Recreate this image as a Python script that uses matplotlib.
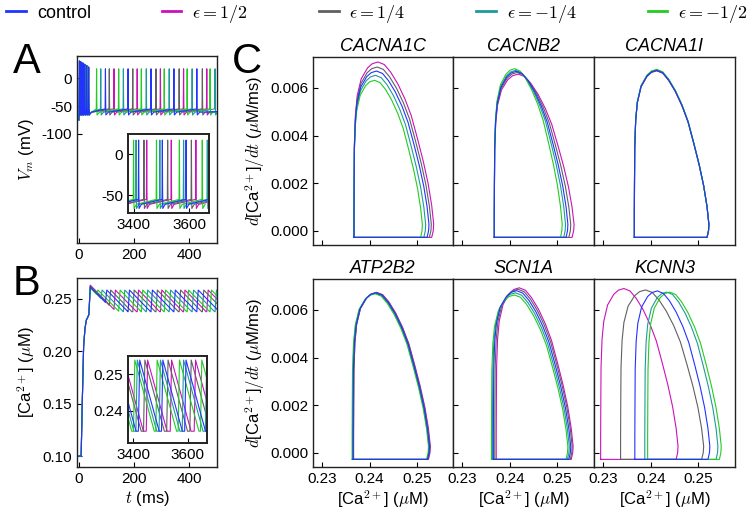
import matplotlib
matplotlib.use('Agg')
import matplotlib.pyplot as plt
from matplotlib.lines import Line2D
from matplotlib.ticker import FormatStrFormatter

plt.rcParams.update({
    'font.family': ['Liberation Sans', 'DejaVu Sans'],
    'mathtext.fontset': 'cm',
    'axes.unicode_minus': False,
    'xtick.direction': 'in',
    'ytick.direction': 'in',
    'xtick.labelsize': 11,
    'ytick.labelsize': 11,
    'axes.labelsize': 12,
    'axes.linewidth': 1.0,
    'axes.edgecolor': '#222222',
    'xtick.major.size': 3.5,
    'ytick.major.size': 3.5,
})

# series: control, eps=1/2, eps=1/4, eps=-1/4, eps=-1/2
labels = ['control', r'$\epsilon=1/2$', r'$\epsilon=1/4$', r'$\epsilon=-1/4$', r'$\epsilon=-1/2$']
colors = ['#2233ff', '#cc11bb', '#606060', '#1f9a9a', '#22cc22']
draw_order = [1, 2, 3, 4, 0]

# ---- panel A / B : spike times (ms) ----
early_spikes = [2, 6, 10, 15, 21, 28, 35]
early_peaks = [31, 30, 28, 27, 25, 23, 20]
spikes_main = [
    [96, 178, 261, 344, 427],
    [127, 211, 295, 379, 463],
    [110, 195, 279, 363, 447],
    [79, 161, 244, 327, 410, 493],
    [64, 144, 226, 309, 392, 475],
]
spikes_inset = [
    [3333, 3418, 3503, 3588, 3673],
    [3360, 3447, 3535, 3623, 3711],
    [3352, 3437, 3522, 3607, 3692],
    [3325, 3409, 3494, 3579, 3664],
    [3317, 3400, 3482, 3564, 3646],
]
# spike waveform (offset ms, mV); peak value given separately
spike_dt = [-1.2, 0, 0.8, 1.6, 10]
spike_dv = [-55, None, -40, -66, -61]
v_peak = 17
v_rest = -60
v_start = -75

# calcium trace
ca_start_t = [0, 8, 12, 17, 22, 27, 31, 36]
ca_start_c = [0.10, 0.10, 0.15, 0.205, 0.222, 0.230, 0.232, 0.235]
ca_first_peak = [0.2615, 0.2632, 0.2625, 0.2610, 0.2605]
ca_lo_main, ca_hi_main = 0.2378, 0.2585
ca_lo_inset, ca_hi_inset = 0.2345, 0.2538
ca_rise = 5.0
ca_decay = 0.00027  # uM/ms

# ---- panel C : limit cycles ----
genes = ['CACNA1C', 'CACNB2', 'CACNA1I', 'ATP2B2', 'SCN1A', 'KCNN3']
loop_ca_min = [
    [0.2367, 0.2367, 0.2367, 0.2367, 0.2367],
    [0.2367, 0.2367, 0.2367, 0.2367, 0.2367],
    [0.2365, 0.2365, 0.2365, 0.2365, 0.2365],
    [0.2365, 0.2366, 0.2366, 0.2364, 0.2363],
    [0.2365, 0.2371, 0.2368, 0.2363, 0.2361],
    [0.2366, 0.2294, 0.2336, 0.2387, 0.2393],
]
loop_ca_max = [
    [0.2526, 0.2536, 0.2531, 0.2519, 0.2512],
    [0.2522, 0.2535, 0.2528, 0.2517, 0.2510],
    [0.2522, 0.2522, 0.2522, 0.2522, 0.2522],
    [0.2527, 0.2529, 0.2528, 0.2526, 0.2525],
    [0.2528, 0.2533, 0.2531, 0.2525, 0.2522],
    [0.2524, 0.2457, 0.2511, 0.2541, 0.2548],
]
loop_peak = [
    [0.00671, 0.00709, 0.00688, 0.00653, 0.00632],
    [0.00670, 0.00658, 0.00665, 0.00674, 0.00681],
    [0.00674, 0.00672, 0.00673, 0.00676, 0.00678],
    [0.00672, 0.00674, 0.00673, 0.00670, 0.00668],
    [0.00681, 0.00693, 0.00687, 0.00672, 0.00663],
    [0.00680, 0.00690, 0.00684, 0.00675, 0.00675],
]
loop_floor = -0.00028
# loop outline: fraction of width, fraction of peak
loop_u = [0.0, 0.0, 0.002, 0.005, 0.018, 0.04, 0.09, 0.17, 0.23, 0.30, 0.38, 0.46,
          0.55, 0.64, 0.72, 0.80, 0.87, 0.93, 0.975, 1.0, 0.995]
loop_v = [0.0, 0.10, 0.30, 0.52, 0.69, 0.80, 0.90, 0.965, 0.99, 1.0, 0.985, 0.94,
          0.87, 0.78, 0.68, 0.54, 0.41, 0.28, 0.15, 0.04, 0.0]


def v_trace(spikes, t_end):
    t, v = [0], [v_start]
    allsp = list(zip(early_spikes, early_peaks)) + [(s, v_peak) for s in spikes]
    for s, pk in allsp:
        for dt, dv in zip(spike_dt, spike_dv):
            t.append(s + dt)
            v.append(pk if dv is None else dv)
    t.append(t_end)
    v.append(v_rest)
    return t, v


def v_trace_inset(spikes):
    t, v = [spikes[0] - 20], [v_rest]
    for s in spikes:
        for dt, dv in zip(spike_dt, spike_dv):
            t.append(s + dt)
            v.append(v_peak if dv is None else dv)
    return t, v


def ca_trace(spikes, lo, hi, t0, c0, peak0, t_end):
    t, c = list(t0), list(c0)
    pt, ph = t[-1] + ca_rise, peak0
    t.append(pt)
    c.append(ph)
    for s in list(spikes) + [t_end]:
        val = ph - ca_decay * (s - pt)
        if val < lo:
            t.append(pt + (ph - lo) / ca_decay)
            c.append(lo)
            val = lo
        t.append(s)
        c.append(val)
        if s == t_end:
            break
        pt, ph = s + ca_rise, hi
        t.append(pt)
        c.append(ph)
    return t, c


W, H = 750, 511
fig = plt.figure(figsize=(7.5, 5.11), dpi=100)


def px_axes(l, r, top, bot):
    return fig.add_axes([l / W, 1 - bot / H, (r - l) / W, (bot - top) / H])


lw = 0.8

# ---------- A ----------
axA = px_axes(77, 217, 56, 243)
for i in draw_order:
    t, v = v_trace(spikes_main[i], 505)
    axA.plot(t, v, color=colors[i], lw=lw)
axA.set_xlim(-7, 500)
axA.set_ylim(-296, 40)
axA.set_xticks([0, 200, 400])
axA.set_yticks([0, -50, -100])
axA.set_ylabel('$V_m$ (mV)')

axAi = px_axes(128, 209, 134, 213)
for i in draw_order:
    t, v = v_trace_inset(spikes_inset[i])
    axAi.plot(t, v, color=colors[i], lw=lw)
axAi.set_xlim(3380, 3670)
axAi.set_ylim(-71.5, 24.4)
axAi.set_xticks([3400, 3600])
axAi.set_yticks([0, -50])
for sp in axAi.spines.values():
    sp.set_linewidth(1.4)

# ---------- B ----------
axB = px_axes(77, 217, 278, 467)
for i in draw_order:
    t, c = ca_trace(spikes_main[i], ca_lo_main, ca_hi_main,
                    ca_start_t, ca_start_c, ca_first_peak[i], 505)
    axB.plot(t, c, color=colors[i], lw=lw)
axB.set_xlim(-7, 500)
axB.set_ylim(0.0895, 0.270)
axB.set_xticks([0, 200, 400])
axB.set_yticks([0.10, 0.15, 0.20, 0.25])
axB.yaxis.set_major_formatter(FormatStrFormatter('%.2f'))
axB.set_ylabel(r'[Ca$^{\mathsf{2+}}$] ($\mu$M)')
axB.set_xlabel('$t$ (ms)', labelpad=2)

axBi = px_axes(128, 207, 356, 443)
for i in draw_order:
    sp = spikes_inset[i]
    t, c = ca_trace(sp[1:], ca_lo_inset, ca_hi_inset, [sp[0]], [ca_lo_inset],
                    ca_hi_inset, 3700)
    axBi.plot(t, c, color=colors[i], lw=lw)
axBi.set_xlim(3380, 3670)
axBi.set_ylim(0.2313, 0.2549)
axBi.set_xticks([3400, 3600])
axBi.set_yticks([0.24, 0.25])
axBi.yaxis.set_major_formatter(FormatStrFormatter('%.2f'))
for sp in axBi.spines.values():
    sp.set_linewidth(1.4)

# ---------- C ----------
cols = [(313, 453), (453, 594), (594, 735)]
rows = [(57, 245), (279, 467)]
for g, gene in enumerate(genes):
    r, k = divmod(g, 3)
    ax = px_axes(cols[k][0], cols[k][1], rows[r][0], rows[r][1])
    for i in draw_order:
        cmin, cmax, pk = loop_ca_min[g][i], loop_ca_max[g][i], loop_peak[g][i]
        w = cmax - cmin
        xs = [cmin] + [cmin + u * w for u in loop_u] + [cmin + 0.975 * w, cmin]
        ys = [loop_floor] + [v * pk for v in loop_v] + [loop_floor, loop_floor]
        ax.plot(xs, ys, color=colors[i], lw=lw)
    ax.set_xlim(0.228, 0.2577)
    ax.set_ylim(-0.0006, 0.0073)
    ax.set_xticks([0.23, 0.24, 0.25])
    ax.set_yticks([0.0, 0.002, 0.004, 0.006])
    ax.xaxis.set_major_formatter(FormatStrFormatter('%.2f'))
    ax.yaxis.set_major_formatter(FormatStrFormatter('%.3f'))
    ax.set_title(gene, fontstyle='italic', fontsize=13, pad=4)
    if k == 0:
        ax.set_ylabel(r'$d$[Ca$^{\mathsf{2+}}$]$/dt$ ($\mu$M/ms)', labelpad=2)
    else:
        ax.tick_params(labelleft=False)
    if r == 0:
        ax.tick_params(labelbottom=False)
    else:
        ax.set_xlabel(r'[Ca$^{\mathsf{2+}}$] ($\mu$M)', labelpad=2)

# panel letters
fig.text(13 / W, 1 - 73 / H, 'A', fontsize=30, va='baseline')
fig.text(13 / W, 1 - 295 / H, 'B', fontsize=30, va='baseline')
fig.text(232 / W, 1 - 73 / H, 'C', fontsize=30, va='baseline')

handles = [Line2D([], [], color=c, lw=2) for c in colors]
fig.legend(handles, labels, loc='lower left', bbox_to_anchor=(0.006, 0.948, 0.994, 0.04),
           ncol=5, mode='expand', frameon=False, fontsize=13, handlelength=1.1,
           handletextpad=0.6, borderaxespad=0, borderpad=0.1)

fig.savefig('out.png', dpi=100)
